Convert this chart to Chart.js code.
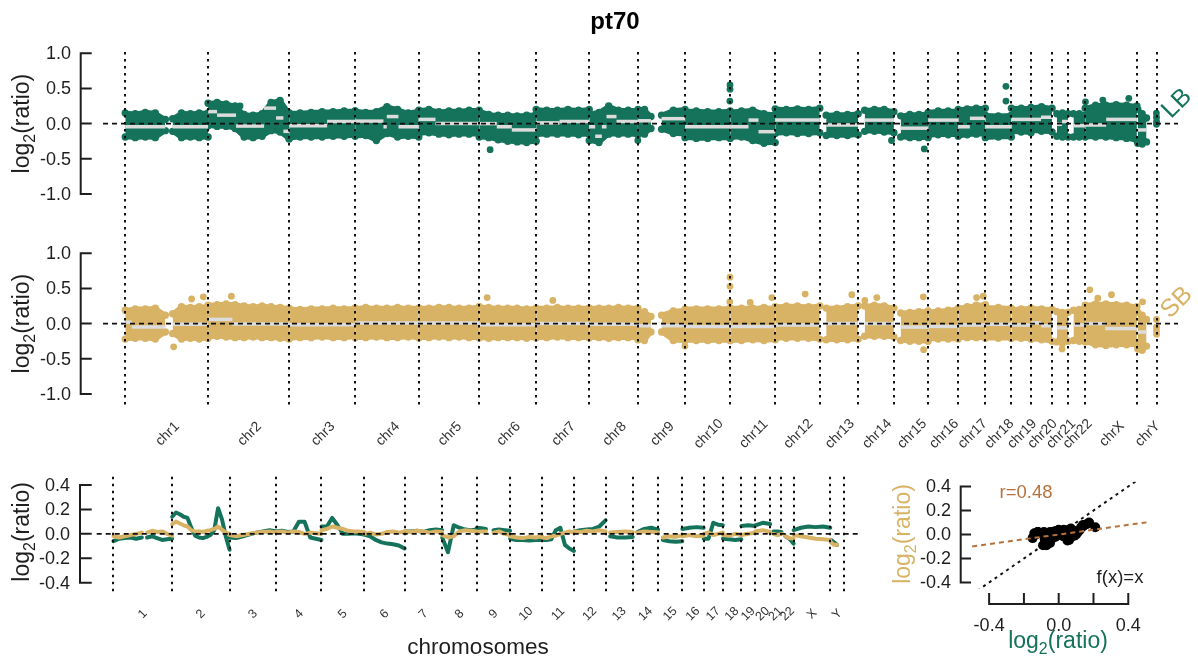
<!DOCTYPE html>
<html>
<head>
<meta charset="utf-8">
<title>pt70</title>
<script src="https://cdn.jsdelivr.net/npm/chart.js@4.4.1/dist/chart.umd.min.js"></script>
<style>
html, body { margin: 0; padding: 0; background: #fff; overflow: hidden; }
#wrap { position: relative; width: 1198px; height: 664px; }
canvas { position: absolute; left: 0; top: 0; }
</style>
</head>
<body>
<div id="wrap">
  <canvas id="genome" width="1198" height="664"></canvas>
  <canvas id="trend" width="1198" height="664"></canvas>
  <canvas id="corr" width="1198" height="664"></canvas>
</div>
<script>
// ---------- genome layout (hg19, Mb) ----------
const chromNames = ['1','2','3','4','5','6','7','8','9','10','11','12','13','14','15','16','17','18','19','20','21','22','X','Y'];
const chromLengths = [249.25, 243.2, 198.02, 191.15, 180.92, 171.12, 159.14, 146.36, 141.21, 135.53, 135.01, 133.85,
                      115.17, 107.35, 102.53, 90.35, 81.2, 78.08, 59.13, 63.03, 48.13, 51.3, 155.27, 59.37];

// covered blocks (chromosome index, from / to in Mb within the chromosome)
const blockChrom = [0, 0, 1, 2, 3, 4, 5, 6, 7, 8, 8, 9, 10, 11, 12, 13, 14, 15, 16, 17, 18, 19, 20, 21, 22, 23];
const blockFrom  = [0.8, 143, 0.1, 0.1, 0.1, 0.1, 0.2, 0.1, 0.2, 0.2, 71, 0.1, 0.2, 0.1, 19.2, 19.5, 20.2, 0.1, 0.1, 0.1, 0.3, 0.1, 14.5, 16.2, 0.2, 2.7];
const blockTo    = [121, 249.2, 243.1, 198, 191.1, 180.9, 171.1, 159.1, 146.3, 39, 141.2, 135.5, 135, 133.8, 115.1, 107.3, 102.5, 90.3, 81.2, 78, 59.1, 63, 48.1, 51.3, 155.2, 28.8];

// ---------- LB probe cloud: upper / lower extent per block ----------
const lbHigh = [
  [0.15, 0.14, 0.16, 0.15, 0.06], [0.07, 0.15, 0.14, 0.15, 0.15],
  [0.29, 0.30, 0.28, 0.25, 0.13, 0.12, 0.14, 0.30, 0.33, 0.15],
  [0.15, 0.15, 0.16, 0.17, 0.17, 0.18, 0.18], [0.18, 0.16, 0.17, 0.24, 0.20, 0.15, 0.18],
  [0.19, 0.20, 0.17, 0.18, 0.18, 0.19, 0.19], [0.18, 0.13, 0.12, 0.12, 0.11, 0.12, 0.13],
  [0.20, 0.19, 0.19, 0.20, 0.19, 0.20], [0.14, 0.16, 0.25, 0.19, 0.19, 0.19],
  [0.20, 0.20, 0.10], [0.12, 0.19, 0.20],
  [0.18, 0.18, 0.17, 0.17, 0.18], [0.17, 0.18, 0.19, 0.14, 0.13], [0.21, 0.20, 0.21, 0.20, 0.22],
  [0.12, 0.13, 0.13, 0.14], [0.19, 0.20, 0.20, 0.17], [0.11, 0.13, 0.13, 0.14], [0.16, 0.18, 0.18, 0.18],
  [0.20, 0.21, 0.22, 0.22], [0.12, 0.11, 0.12], [0.22, 0.22, 0.22], [0.23, 0.24, 0.22],
  [0.14, 0.15, 0.14], [0.14, 0.14, 0.12], [0.22, 0.26, 0.26, 0.27, 0.26, 0.25], [0.20, 0.14, 0.08]
];
const lbLow = [
  [-0.19, -0.20, -0.19, -0.20, -0.10], [-0.11, -0.20, -0.19, -0.20, -0.19],
  [-0.03, -0.04, -0.04, -0.07, -0.19, -0.20, -0.18, -0.10, -0.12, -0.22],
  [-0.21, -0.19, -0.19, -0.19, -0.18, -0.18, -0.17], [-0.18, -0.17, -0.24, -0.14, -0.19, -0.18, -0.19],
  [-0.14, -0.13, -0.15, -0.16, -0.15, -0.15, -0.15], [-0.19, -0.20, -0.23, -0.25, -0.26, -0.27, -0.25],
  [-0.16, -0.15, -0.15, -0.15, -0.16, -0.15], [-0.24, -0.27, -0.15, -0.15, -0.15, -0.16],
  [-0.14, -0.15, -0.07], [-0.08, -0.14, -0.15],
  [-0.20, -0.21, -0.21, -0.20, -0.21], [-0.20, -0.19, -0.24, -0.28, -0.27], [-0.14, -0.13, -0.14, -0.14, -0.13],
  [-0.17, -0.17, -0.17, -0.16], [-0.11, -0.11, -0.12, -0.13], [-0.19, -0.20, -0.20, -0.20], [-0.17, -0.16, -0.16, -0.16],
  [-0.18, -0.16, -0.15, -0.15], [-0.20, -0.19, -0.19], [-0.12, -0.12, -0.13], [-0.10, -0.11, -0.12],
  [-0.18, -0.19, -0.19], [-0.19, -0.19, -0.18], [-0.19, -0.19, -0.19, -0.20, -0.21, -0.24], [-0.28, -0.29, -0.26]
];

// ---------- SB probe cloud ----------
const sbHigh = [
  [0.19, 0.21, 0.21, 0.22, 0.12], [0.14, 0.24, 0.23, 0.24, 0.24],
  [0.26, 0.27, 0.28, 0.27, 0.25, 0.24, 0.25, 0.24, 0.23, 0.22],
  [0.21, 0.20, 0.21, 0.21, 0.22, 0.21, 0.22], [0.22, 0.23, 0.22, 0.22, 0.23, 0.22, 0.22],
  [0.22, 0.22, 0.23, 0.23, 0.22, 0.22, 0.24], [0.24, 0.23, 0.22, 0.22, 0.22, 0.21, 0.22],
  [0.22, 0.22, 0.23, 0.22, 0.22, 0.22], [0.22, 0.22, 0.22, 0.23, 0.22, 0.22],
  [0.17, 0.17, 0.10], [0.12, 0.18, 0.19],
  [0.21, 0.21, 0.21, 0.21, 0.22], [0.22, 0.22, 0.22, 0.23, 0.22], [0.24, 0.25, 0.25, 0.24, 0.25],
  [0.22, 0.22, 0.24, 0.25], [0.25, 0.26, 0.25, 0.22], [0.15, 0.16, 0.17, 0.18], [0.17, 0.18, 0.19, 0.21],
  [0.22, 0.24, 0.26, 0.27], [0.23, 0.23, 0.22], [0.20, 0.21, 0.22], [0.22, 0.21, 0.20],
  [0.17, 0.16, 0.16], [0.19, 0.20, 0.22], [0.26, 0.28, 0.28, 0.27, 0.26, 0.24], [0.16, 0.12, 0.06]
];
const sbLow = [
  [-0.22, -0.21, -0.21, -0.22, -0.12], [-0.14, -0.22, -0.21, -0.22, -0.21],
  [-0.19, -0.18, -0.19, -0.20, -0.20, -0.19, -0.20, -0.20, -0.21, -0.22],
  [-0.21, -0.20, -0.20, -0.19, -0.20, -0.20, -0.19], [-0.20, -0.20, -0.19, -0.20, -0.20, -0.19, -0.20],
  [-0.20, -0.20, -0.19, -0.20, -0.19, -0.20, -0.20], [-0.20, -0.21, -0.20, -0.20, -0.20, -0.21, -0.20],
  [-0.20, -0.20, -0.19, -0.20, -0.20, -0.20], [-0.20, -0.20, -0.21, -0.20, -0.20, -0.20],
  [-0.23, -0.24, -0.12], [-0.12, -0.24, -0.24],
  [-0.24, -0.24, -0.24, -0.24, -0.24], [-0.24, -0.24, -0.23, -0.24, -0.23], [-0.21, -0.21, -0.21, -0.21, -0.22],
  [-0.23, -0.23, -0.23, -0.22], [-0.18, -0.18, -0.18, -0.19], [-0.24, -0.25, -0.25, -0.25], [-0.22, -0.22, -0.22, -0.22],
  [-0.20, -0.20, -0.20, -0.20], [-0.21, -0.21, -0.21], [-0.21, -0.21, -0.22], [-0.22, -0.23, -0.25],
  [-0.26, -0.28, -0.25], [-0.24, -0.25, -0.25], [-0.26, -0.30, -0.31, -0.30, -0.30, -0.30], [-0.36, -0.38, -0.32]
];

// ---------- segment means [chromosome, from, to, log2 ratio] ----------
const lbSegments = [
  [0, 0.8, 121, -0.045], [0, 143, 249.2, -0.045],
  [1, 0.1, 27, 0.17], [1, 27, 84, 0.12], [1, 84, 168, -0.035], [1, 168, 204, 0.22], [1, 204, 226, 0.08], [1, 226, 243.1, -0.11],
  [2, 0.1, 114, -0.03], [2, 114, 198, 0.03],
  [3, 0.1, 85, 0.035], [3, 85, 95, -0.045], [3, 95, 130, 0.1], [3, 130, 191.1, -0.045],
  [4, 0.1, 50, 0.06], [4, 50, 180.9, 0.0],
  [5, 0.2, 53, 0.0], [5, 53, 98, -0.045], [5, 98, 171.1, -0.09],
  [6, 0.1, 70, 0.01], [6, 70, 159.1, 0.03],
  [7, 0.2, 18, -0.045], [7, 18, 38, -0.18], [7, 38, 52, -0.045], [7, 52, 82, 0.1], [7, 82, 146.3, 0.03],
  [8, 0.2, 39, 0.04], [8, 71, 141.2, 0.07],
  [9, 0.1, 135.5, -0.045],
  [10, 0.2, 55, -0.045], [10, 55, 85, 0.05], [10, 85, 135, -0.115],
  [11, 0.1, 133.8, 0.05],
  [12, 19.2, 115.1, -0.02],
  [13, 19.5, 107.3, 0.05],
  [14, 20.2, 102.5, -0.065],
  [15, 0.1, 90.3, 0.05],
  [16, 0.1, 35, -0.045], [16, 35, 81.2, 0.075],
  [17, 0.1, 78, -0.045],
  [18, 0.3, 59.1, 0.06],
  [19, 0.1, 30, 0.06], [19, 30, 63, 0.09],
  [20, 14.5, 30, -0.01], [20, 30, 48.1, 0.03],
  [21, 16.2, 51.3, -0.03],
  [22, 0.2, 63, -0.02], [22, 63, 155.2, 0.06],
  [23, 2.7, 28.8, -0.09]
];
const sbSegments = [
  [0, 0.8, 20, 0.02], [0, 20, 121, -0.05], [0, 143, 249.2, -0.01],
  [1, 0.1, 73, 0.06], [1, 73, 243.1, -0.005],
  [2, 0.1, 198, -0.015],
  [3, 0.1, 191.1, 0.01],
  [4, 0.1, 180.9, 0.01],
  [5, 0.2, 171.1, -0.015],
  [6, 0.1, 159.1, 0.0],
  [7, 0.2, 146.3, -0.01],
  [8, 0.2, 39, -0.03], [8, 71, 141.2, -0.03],
  [9, 0.1, 135.5, -0.04],
  [10, 0.2, 135, -0.04],
  [11, 0.1, 133.8, -0.02],
  [12, 19.2, 115.1, 0.0],
  [13, 19.5, 107.3, 0.0],
  [14, 20.2, 102.5, -0.05],
  [15, 0.1, 90.3, -0.04],
  [16, 0.1, 81.2, -0.02],
  [17, 0.1, 78, -0.01],
  [18, 0.3, 59.1, -0.02],
  [19, 0.1, 30, 0.01], [19, 30, 63, -0.03],
  [20, 14.5, 48.1, -0.06],
  [21, 16.2, 51.3, -0.02],
  [22, 0.2, 60, 0.0], [22, 60, 155.2, -0.07],
  [23, 2.7, 28.8, -0.12]
];

// ---------- isolated probes [chromosome, position, log2 ratio] ----------
const lbOutliers = [
  [1, 96, 0.25], [5, 33, -0.37], [7, 146, -0.24], [9, 135, 0.55], [9, 135, 0.49], [9, 134.5, 0.32],
  [13, 100, -0.24], [14, 91, -0.36], [17, 62, 0.53], [17, 62, 0.32],
  [22, 1, 0.31], [22, 53, 0.335], [22, 131, 0.36],
  [23, 58.5, 0.15], [23, 58.8, 0.09], [23, 59, 0.03], [23, 58.7, -0.01]
];
const sbOutliers = [
  [0, 200, 0.35], [0, 235, 0.38], [0, 146, -0.33], [1, 70, 0.39], [5, 24, 0.37], [6, 50, 0.33],
  [8, 141, -0.32], [9, 135, 0.66], [9, 135, 0.53], [9, 134.5, 0.31], [10, 60, 0.30], [10, 125, 0.37],
  [11, 90, 0.42], [12, 96, 0.41], [13, 20, 0.33], [13, 56, 0.37], [14, 88, 0.38], [14, 89, -0.37],
  [16, 55, 0.37], [16, 75, 0.39], [20, 30, -0.36], [22, 14, 0.48], [22, 79, 0.41], [22, 38, 0.36],
  [23, 17, 0.31], [23, 58.5, 0.06], [23, 58.8, -0.05], [23, 59, -0.15], [23, 58.7, -0.1]
];

// ---------- smoothed profiles per block ----------
const lbTrend = [
  [-0.06, -0.04, -0.035, -0.03, -0.04, -0.03], [-0.03, -0.02, -0.035, -0.05, -0.045, -0.04],
  [0.14, 0.175, 0.16, 0.14, 0.13, 0.05, -0.015, -0.03, -0.035, -0.025, -0.01, 0.03, 0.21, 0.12, -0.02, -0.13],
  [-0.03, -0.035, -0.02, -0.005, 0.01, 0.02, 0.03, 0.02],
  [0.02, 0.025, 0.015, 0.02, 0.1, 0.1, -0.03, -0.04, -0.05],
  [0.06, 0.06, 0.13, 0.07, 0.0, 0.0, 0.005, 0.0, -0.005],
  [-0.005, -0.02, -0.05, -0.07, -0.08, -0.085, -0.095, -0.12],
  [0.02, 0.02, 0.025, 0.015, 0.03, 0.035, 0.03],
  [-0.03, -0.15, 0.07, 0.05, 0.035, 0.03, 0.035],
  [0.05, 0.045, 0.04], [0.03, 0.035, 0.03, 0.025],
  [-0.04, -0.05, -0.05, -0.055, -0.05, -0.05],
  [-0.05, -0.05, -0.045, 0.03, 0.05, -0.09, -0.12, -0.14],
  [0.02, 0.03, 0.035, 0.04, 0.06, 0.11],
  [-0.02, -0.03, -0.03, -0.025], [0.015, 0.04, 0.05, 0.035], [-0.05, -0.06, -0.065, -0.06], [0.04, 0.05, 0.055, 0.05],
  [-0.04, -0.04, 0.09, 0.075, 0.07], [-0.04, -0.045, -0.05, -0.045], [0.065, 0.07, 0.065], [0.07, 0.09, 0.08],
  [0.02, 0.02, 0.015], [-0.02, -0.04, -0.08], [0.03, 0.05, 0.06, 0.055, 0.06, 0.05], [-0.05, -0.07, -0.09]
];
const sbTrend = [
  [-0.02, -0.03, -0.02, -0.01, 0.0, 0.01], [0.01, 0.025, 0.015, 0.02, 0.0, -0.015],
  [0.08, 0.1, 0.085, 0.07, 0.06, 0.03, 0.02, 0.02, 0.015, 0.025, 0.03, 0.04, 0.06, 0.035, 0.01, 0.0],
  [-0.01, -0.02, -0.01, 0.0, 0.01, 0.015, 0.02, 0.01],
  [0.015, 0.02, 0.01, 0.02, 0.015, 0.0, 0.01, 0.005, 0.0],
  [0.03, 0.04, 0.06, 0.05, 0.04, 0.025, 0.02, 0.02, 0.015],
  [0.0, 0.01, -0.005, 0.0, 0.015, 0.02, 0.01, 0.02],
  [0.02, 0.015, 0.025, 0.02, 0.01, 0.02, 0.015],
  [-0.01, -0.03, -0.02, 0.02, 0.03, 0.025, 0.02],
  [0.015, 0.02, 0.02], [0.01, 0.02, 0.0, -0.01],
  [-0.02, -0.03, -0.035, -0.025, -0.03, -0.02],
  [-0.03, -0.035, -0.02, -0.015, 0.0, 0.01, 0.02, 0.01],
  [0.02, 0.015, 0.025, 0.02, 0.03, 0.02],
  [0.01, 0.015, 0.02, 0.015], [0.01, 0.02, 0.015, 0.01], [-0.03, -0.02, -0.025, -0.01], [-0.02, -0.01, -0.02, -0.015],
  [0.0, 0.01, -0.01, 0.0, 0.01], [-0.01, -0.015, 0.0, -0.01], [-0.01, 0.0, 0.01], [0.02, 0.03, 0.015],
  [0.0, -0.01, 0.0], [-0.02, -0.035, -0.04], [-0.01, -0.02, -0.03, -0.04, -0.045, -0.05], [-0.07, -0.09, -0.09]
];

// ---------- axis ticks and reference lines ----------
const panelTicks = [-1, -0.5, 0, 0.5, 1];
const trendTicks = [-0.4, -0.2, 0, 0.2, 0.4];
const corrTicks = [-0.4, -0.2, 0, 0.2, 0.4];
const corrXLabels = [-0.4, 0, 0.4];
const identityX = [-0.6, 0.6];
const identityY = [-0.6, 0.6];
const fitX = [-0.6, 0.6];
const fitY = [-0.12, 0.12];
const corrLabel = 'r=0.48';

// ---------- styling ----------
const GREEN = '#14735a';
const TAN = '#d8b365';
const BROWN = '#b7723c';
const SEG = '#dcdcdc';
const INK = '#1e1e1e';
const FONT = "'Liberation Sans', Arial, Helvetica, sans-serif";
const font = (size, weight) => (weight ? weight + ' ' : '') + size + 'px ' + FONT;

const chromStart = [];
let acc = 0;
for (const len of chromLengths) { chromStart.push(acc); acc += len; }
const genomeEnd = acc;
const chromEdges = chromStart.concat([genomeEnd]);
const chromMid = chromLengths.map((len, i) => chromStart[i] + len / 2);

function blockXs(b, n) {
  const s = chromStart[blockChrom[b]], f = blockFrom[b], t = blockTo[b];
  return Array.from({ length: n }, (_, i) => s + f + (t - f) * i / (n - 1));
}

// probe cloud: lower edge line, then upper edge line filled down to it
function bandDatasets(high, low, color, axis) {
  const out = [];
  high.forEach((hi, b) => {
    const xs = blockXs(b, hi.length);
    const lo = low[b];
    const common = {
      xAxisID: 'x', yAxisID: axis, borderColor: color, backgroundColor: color, borderWidth: 4.5,
      borderJoinStyle: 'round', borderCapStyle: 'round',
      pointRadius: 3.7, pointBorderWidth: 0, pointBackgroundColor: color, tension: 0, order: 2
    };
    out.push({ ...common, data: xs.map((x, i) => ({ x, y: lo[i] })), fill: false });
    out.push({ ...common, data: xs.map((x, i) => ({ x, y: hi[i] })), fill: '-1' });
  });
  return out;
}

function segmentDatasets(segs, axis) {
  return segs.map(([c, f, t, v]) => ({
    xAxisID: 'x', yAxisID: axis,
    data: [{ x: chromStart[c] + f, y: v }, { x: chromStart[c] + t, y: v }],
    borderColor: SEG, borderWidth: 3.5, borderCapStyle: 'butt', pointRadius: 0, fill: false, order: 0
  }));
}

function outlierDataset(pts, color, axis) {
  return {
    xAxisID: 'x', yAxisID: axis, showLine: false,
    data: pts.map(([c, p, v]) => ({ x: chromStart[c] + p, y: v })),
    pointRadius: 3.4, pointBorderWidth: 0, pointBackgroundColor: color,
    backgroundColor: color, borderColor: color, order: 1
  };
}

// ---------- drawing helpers ----------
function drawRatioTitle(ctx, cx, cy, size, color, vertical) {
  ctx.save();
  ctx.translate(cx, cy);
  if (vertical) ctx.rotate(-Math.PI / 2);
  ctx.fillStyle = color;
  ctx.textAlign = 'left';
  ctx.textBaseline = 'alphabetic';
  const sub = Math.round(size * 0.68);
  ctx.font = font(size);
  const w1 = ctx.measureText('log').width;
  const w3 = ctx.measureText('(ratio)').width;
  ctx.font = font(sub);
  const w2 = ctx.measureText('2').width;
  let x = -(w1 + w2 + w3) / 2;
  const base = size * 0.27;
  ctx.font = font(size); ctx.fillText('log', x, base); x += w1;
  ctx.font = font(sub); ctx.fillText('2', x, base + size * 0.24); x += w2;
  ctx.font = font(size); ctx.fillText('(ratio)', x, base);
  ctx.restore();
}

function drawBracket(ctx, scale, ticks, axisX, tickLen, labelX, size) {
  ctx.save();
  ctx.strokeStyle = INK; ctx.lineWidth = 2; ctx.setLineDash([]); ctx.lineCap = 'square';
  const top = scale.getPixelForValue(Math.max(...ticks));
  const bot = scale.getPixelForValue(Math.min(...ticks));
  ctx.beginPath();
  ctx.moveTo(axisX, top); ctx.lineTo(axisX, bot);
  ticks.forEach(t => { const y = scale.getPixelForValue(t); ctx.moveTo(axisX, y); ctx.lineTo(axisX + tickLen, y); });
  ctx.stroke();
  ctx.fillStyle = INK; ctx.font = font(size); ctx.textAlign = 'right'; ctx.textBaseline = 'middle';
  ticks.forEach(t => ctx.fillText(t.toFixed(1), labelX, scale.getPixelForValue(t) + 1));
  ctx.restore();
}

function drawBoundaries(ctx, xScale, top, bottom) {
  ctx.save();
  ctx.strokeStyle = '#111'; ctx.lineWidth = 2; ctx.setLineDash([2.5, 4.5]);
  chromEdges.forEach(g => {
    const x = Math.round(xScale.getPixelForValue(g));
    ctx.beginPath(); ctx.moveTo(x, top); ctx.lineTo(x, bottom); ctx.stroke();
  });
  ctx.restore();
}

function drawZero(ctx, y, left, right) {
  ctx.save();
  ctx.strokeStyle = '#111'; ctx.lineWidth = 1.6; ctx.setLineDash([5, 4]);
  ctx.beginPath(); ctx.moveTo(left, y); ctx.lineTo(right, y); ctx.stroke();
  ctx.restore();
}

function drawRotated(ctx, text, x, y, size, color, weight) {
  ctx.save();
  ctx.translate(x, y); ctx.rotate(-Math.PI / 4);
  ctx.fillStyle = color; ctx.font = font(size, weight);
  ctx.textAlign = 'center'; ctx.textBaseline = 'middle';
  ctx.fillText(text, 0, 0);
  ctx.restore();
}

// ---------- genome-wide panels (LB above, SB below) ----------
const genomeDecor = {
  id: 'genomeDecor',
  afterDraw(chart) {
    const { ctx, chartArea: a, scales } = chart;
    drawBoundaries(ctx, scales.x, a.top, a.bottom);
    drawZero(ctx, scales.yLB.getPixelForValue(0), a.left, a.right);
    drawZero(ctx, scales.ySB.getPixelForValue(0), a.left, a.right);
    drawBracket(ctx, scales.yLB, panelTicks, 80.7, 10, 71, 18);
    drawBracket(ctx, scales.ySB, panelTicks, 80.7, 10, 71, 18);
    drawRatioTitle(ctx, 23, scales.yLB.getPixelForValue(0), 23, INK, true);
    drawRatioTitle(ctx, 23, scales.ySB.getPixelForValue(0), 23, INK, true);
    chromMid.forEach((m, i) => drawRotated(ctx, 'chr' + chromNames[i], scales.x.getPixelForValue(m) + 1, a.bottom + 26, 14, '#333'));
    drawRotated(ctx, 'LB', 1177, scales.yLB.getPixelForValue(0) - 20, 25, GREEN);
    drawRotated(ctx, 'SB', 1177, scales.ySB.getPixelForValue(0) - 21, 25, TAN);
    ctx.save();
    ctx.fillStyle = '#000'; ctx.font = font(24, 'bold'); ctx.textAlign = 'center'; ctx.textBaseline = 'middle';
    ctx.fillText('pt70', 615, 22);
    ctx.restore();
  }
};

const baseOptions = (padding, scales) => ({
  responsive: false,
  animation: false,
  devicePixelRatio: 1,
  events: [],
  layout: { padding },
  plugins: { legend: { display: false }, tooltip: { enabled: false }, title: { display: false } },
  scales
});

new Chart(document.getElementById('genome'), {
  type: 'line',
  data: {
    datasets: [
      ...bandDatasets(lbHigh, lbLow, GREEN, 'yLB'),
      ...bandDatasets(sbHigh, sbLow, TAN, 'ySB'),
      outlierDataset(lbOutliers, GREEN, 'yLB'),
      outlierDataset(sbOutliers, TAN, 'ySB'),
      ...segmentDatasets(lbSegments, 'yLB'),
      ...segmentDatasets(sbSegments, 'ySB')
    ]
  },
  options: baseOptions({ left: 103, right: 20, top: 52, bottom: 256 }, {
    x: { type: 'linear', display: false, min: -66.0, max: 3159.6 },
    yLB: { type: 'linear', axis: 'y', display: false, min: -4.0426, max: 1.0178 },
    ySB: { type: 'linear', axis: 'y', display: false, min: -1.1997, max: 3.8607 }
  }),
  plugins: [genomeDecor]
});

// ---------- smoothed profiles ----------
const trendDatasets = [];
lbTrend.forEach((vals, b) => {
  const xs = blockXs(b, vals.length);
  trendDatasets.push({
    data: xs.map((x, i) => ({ x, y: vals[i] })), borderColor: GREEN, borderWidth: 4,
    borderJoinStyle: 'round', borderCapStyle: 'round', pointRadius: 0, fill: false, order: 1
  });
  trendDatasets.push({
    data: xs.map((x, i) => ({ x, y: sbTrend[b][i] })), borderColor: TAN, borderWidth: 4,
    borderJoinStyle: 'round', borderCapStyle: 'round', pointRadius: 0, fill: false, order: 0
  });
});

const trendDecor = {
  id: 'trendDecor',
  afterDraw(chart) {
    const { ctx, chartArea: a, scales } = chart;
    drawBoundaries(ctx, scales.x, a.top, a.bottom);
    drawZero(ctx, scales.y.getPixelForValue(0), a.left, a.right);
    drawBracket(ctx, scales.y, trendTicks, 80, 10.7, 70, 18);
    drawRatioTitle(ctx, 23, scales.y.getPixelForValue(0) - 2, 23, INK, true);
    chromMid.forEach((m, i) => drawRotated(ctx, chromNames[i], scales.x.getPixelForValue(m), 614, 12.5, '#333'));
    ctx.save();
    ctx.fillStyle = INK; ctx.font = font(22.5); ctx.textAlign = 'center'; ctx.textBaseline = 'middle';
    ctx.fillText('chromosomes', 478, 648);
    ctx.restore();
  }
};

new Chart(document.getElementById('trend'), {
  type: 'line',
  data: { datasets: trendDatasets },
  options: baseOptions({ left: 96.7, right: 340, top: 476.7, bottom: 69 }, {
    x: { type: 'linear', display: false, min: -70.3, max: 3153.7 },
    y: { type: 'linear', display: false, min: -0.501, max: 0.468 }
  }),
  plugins: [trendDecor]
});

// ---------- LB vs SB profile correlation ----------
const pairPoints = [];
lbTrend.forEach((vals, b) => vals.forEach((v, i) => pairPoints.push({ x: v, y: sbTrend[b][i] })));

const corrDecor = {
  id: 'corrDecor',
  afterDraw(chart) {
    const { ctx, scales } = chart;
    drawBracket(ctx, scales.y, corrTicks, 960.7, 9.3, 951, 18);
    ctx.save();
    ctx.strokeStyle = INK; ctx.lineWidth = 2; ctx.lineCap = 'square';
    const axisY = 604;
    const x0 = scales.x.getPixelForValue(Math.min(...corrTicks));
    const x1 = scales.x.getPixelForValue(Math.max(...corrTicks));
    ctx.beginPath();
    ctx.moveTo(x0, axisY); ctx.lineTo(x1, axisY);
    corrTicks.forEach(t => { const x = scales.x.getPixelForValue(t); ctx.moveTo(x, axisY); ctx.lineTo(x, axisY - 10); });
    ctx.stroke();
    ctx.fillStyle = INK; ctx.font = font(18); ctx.textAlign = 'center'; ctx.textBaseline = 'middle';
    corrXLabels.forEach(t => ctx.fillText(t.toFixed(1), scales.x.getPixelForValue(t), 626));
    ctx.fillStyle = BROWN; ctx.font = font(18.5);
    ctx.fillText(corrLabel, 1026, 493);
    ctx.fillStyle = INK;
    ctx.fillText('f(x)=x', 1120, 578);
    ctx.restore();
    drawRatioTitle(ctx, 904, 534, 23, TAN, true);
    drawRatioTitle(ctx, 1058, 642, 23, GREEN, false);
  }
};

new Chart(document.getElementById('corr'), {
  type: 'line',
  data: {
    datasets: [
      { data: fitX.map((x, i) => ({ x, y: fitY[i] })), borderColor: BROWN, borderWidth: 2, borderDash: [5, 4], pointRadius: 0, fill: false, order: 0 },
      { data: pairPoints, showLine: false, pointRadius: 5, pointBorderWidth: 0, pointBackgroundColor: '#000', backgroundColor: '#000', borderColor: '#000', order: 1 },
      { data: identityX.map((x, i) => ({ x, y: identityY[i] })), borderColor: '#111', borderWidth: 2, borderDash: [3, 4], pointRadius: 0, fill: false, order: 2 }
    ]
  },
  options: baseOptions({ left: 970, right: 50.6, top: 481.7, bottom: 75.5 }, {
    x: { type: 'linear', display: false, min: -0.51, max: 0.51 },
    y: { type: 'linear', display: false, min: -0.45, max: 0.44 }
  }),
  plugins: [corrDecor]
});
</script>
</body>
</html>
